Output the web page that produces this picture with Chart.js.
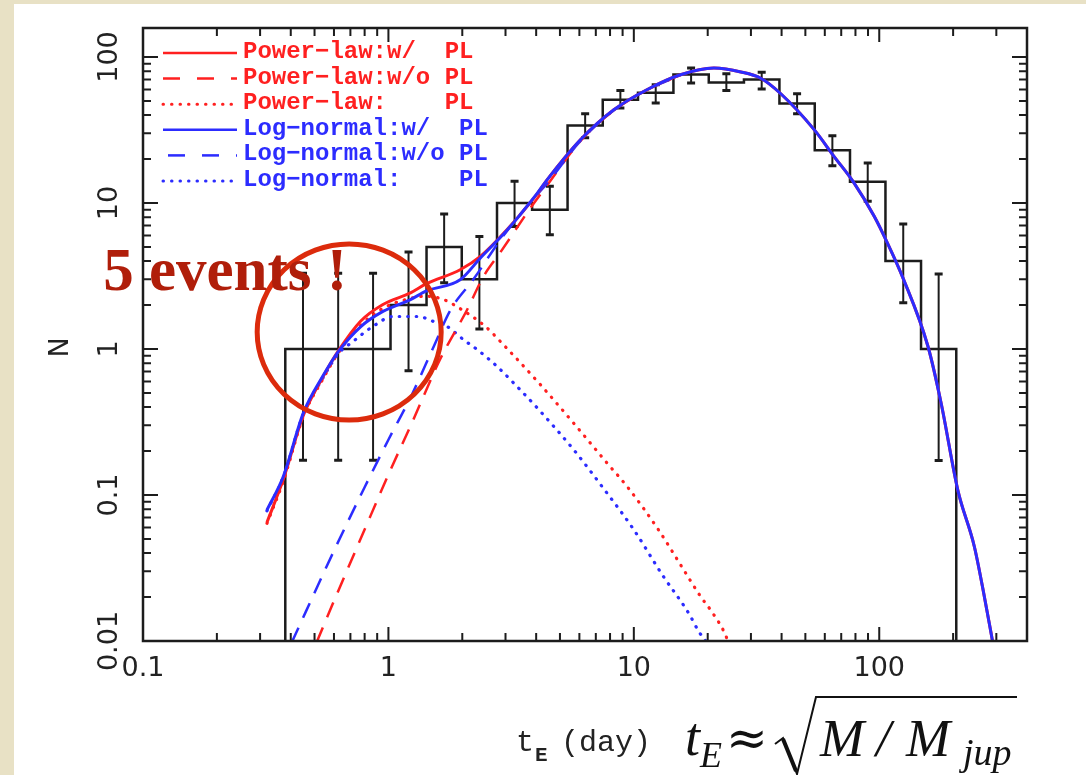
<!DOCTYPE html>
<html>
<head>
<meta charset="utf-8">
<title>tE distribution</title>
<script src="https://cdn.jsdelivr.net/npm/chart.js@4.4.1/dist/chart.umd.min.js"></script>
<style>
  html, body { margin: 0; padding: 0; background: #ffffff; overflow: hidden; }
  #wrap { position: relative; width: 1086px; height: 775px; }
</style>
</head>
<body>
<div id="wrap"><canvas id="myChart" width="1086" height="775"></canvas></div>
<script>
// histogram of observed events (bin edges in days)
let binEdges = [0.38, 0.53, 0.735, 1.02, 1.43, 1.99, 2.77, 3.85, 5.37, 7.47, 10.4, 14.5, 20.2, 28.1, 39.2, 54.6, 76.0, 106, 148, 206];
let binCounts = [1, 1, 1, 2, 5, 3, 10, 9, 34, 51, 57, 76, 67, 70, 48, 23, 14, 4, 1];
let errLow = [0.173, 0.173, 0.173, 0.71, 2.84, 1.37, 6.9, 6.07, 28, 44.7, 48.4, 66.4, 59, 60.4, 40.9, 18, 10.3, 2.07, 0.172];
let errHigh = [3.3, 3.3, 3.3, 4.62, 8.4, 5.9, 14.1, 13.0, 40.9, 59, 64.6, 84.1, 76.9, 78.5, 56.1, 28.9, 18.8, 7.18, 3.26];

// power-law model
let plTotalX = [0.32, 0.373, 0.45, 0.54, 0.625, 0.77, 0.95, 1.23, 1.43, 1.96, 2.37, 3.04, 4.03, 4.43, 6.06, 8.29, 11.3, 15.5, 21.2, 27.3, 32.9, 39.7, 54.3, 65.5, 79, 95.5, 108, 125, 158, 179, 209, 244, 268, 290];
let plTotalY = [0.065, 0.128, 0.35, 0.64, 0.97, 1.55, 2.02, 2.42, 2.8, 3.49, 4.31, 6.56, 11.5, 14.4, 27.1, 43.5, 59.7, 75.6, 84, 79, 71.5, 56, 31.8, 20.8, 13.7, 8.09, 5.32, 3.06, 1.04, 0.42, 0.108, 0.0444, 0.0202, 0.0098];
let plNoPlanetX = [0.51, 0.6, 0.8, 1.0, 1.25, 1.63, 2.09, 2.44, 2.86, 3.8, 4.43, 6.06, 8.29, 11.3, 15.5];
let plNoPlanetY = [0.0098, 0.0188, 0.058, 0.138, 0.315, 0.86, 1.85, 3.14, 4.6, 9.3, 13.2, 26.6, 43.1, 59.4, 75.4];
let plPlanetX = [0.32, 0.373, 0.45, 0.54, 0.625, 0.77, 0.95, 1.2, 1.43, 1.68, 2.0, 2.48, 2.99, 4.16, 5.69, 7.79, 9.4, 12.46, 15.5, 18.7, 20.6, 23.3, 24.3];
let plPlanetY = [0.064, 0.124, 0.345, 0.62, 0.94, 1.45, 1.9, 2.2, 2.3, 2.18, 1.85, 1.43, 1.04, 0.57, 0.31, 0.165, 0.114, 0.0594, 0.0333, 0.0202, 0.0162, 0.0116, 0.0098];

// log-normal model
let lnTotalX = plTotalX;
let lnTotalY = [0.079, 0.134, 0.364, 0.65, 0.96, 1.42, 1.81, 2.18, 2.5, 2.98, 4.2, 6.5, 11.6, 14.4, 27.1, 43.5, 59.7, 75.6, 84, 79, 71.5, 56, 31.8, 20.8, 13.7, 8.09, 5.32, 3.06, 1.04, 0.42, 0.108, 0.0444, 0.0202, 0.0098];
let lnNoPlanetX = [0.404, 0.6, 0.8, 1.0, 1.25, 1.53, 1.79, 2.22, 2.86, 3.8, 4.43, 6.06, 8.29, 11.3, 15.5];
let lnNoPlanetY = [0.0098, 0.0415, 0.113, 0.239, 0.492, 1.04, 1.85, 3.0, 5.6, 10.2, 13.6, 26.6, 43.1, 59.4, 75.4];
let lnPlanetX = [0.32, 0.373, 0.45, 0.54, 0.625, 0.72, 0.85, 1.05, 1.31, 1.58, 1.73, 2.02, 2.30, 2.77, 3.29, 4.16, 5.69, 7.55, 10.0, 13.06, 16.77, 18.4, 19.8];
let lnPlanetY = [0.078, 0.133, 0.36, 0.63, 0.93, 1.13, 1.4, 1.67, 1.67, 1.51, 1.43, 1.16, 0.99, 0.76, 0.569, 0.374, 0.204, 0.11, 0.0578, 0.0284, 0.0154, 0.0116, 0.0098];

let xTickValues = [0.1, 1, 10, 100];
let xTickLabels = ["0.1", "1", "10", "100"];
let yTickValues = [0.01, 0.1, 1, 10, 100];
let yTickLabels = ["0.01", "0.1", "1", "10", "100"];

let legendLabels = [
  "Power\u2212law:w/  PL",
  "Power\u2212law:w/o PL",
  "Power\u2212law:    PL",
  "Log\u2212normal:w/  PL",
  "Log\u2212normal:w/o PL",
  "Log\u2212normal:    PL",
];

const red = "rgb(255,32,32)";
const blue = "rgb(44,44,255)";
const ink = "#1c1c1c";
const dashLong = [16, 11];
const dashDot = [0.5, 8];
const legendStyles = [
  { color: red, dash: [] },
  { color: red, dash: [17, 17] },
  { color: red, dash: dashDot },
  { color: blue, dash: [] },
  { color: blue, dash: [17, 17], offset: 29 },
  { color: blue, dash: dashDot },
];

const xMin = 0.1, xMax = 400, yMin = 0.01, yMax = 158;

let toPoints = (xs, ys) => xs.map((x, i) => ({ x: x, y: ys[i] }));

let histPoints = [{ x: binEdges[0], y: yMin }];
binCounts.forEach((n, i) => {
  histPoints.push({ x: binEdges[i], y: n });
  histPoints.push({ x: binEdges[i + 1], y: n });
});
histPoints.push({ x: binEdges[binEdges.length - 1], y: yMin });

let curve = (label, xs, ys, color, dash, order, width) => ({
  label: label,
  data: toPoints(xs, ys),
  borderColor: color,
  borderWidth: width,
  borderDash: dash,
  borderCapStyle: dash === dashDot ? "round" : "butt",
  cubicInterpolationMode: "monotone",
  pointRadius: 0,
  fill: false,
  order: order,
});

const paperPlugin = {
  id: "paper",
  beforeDraw: (chart) => {
    let ctx = chart.ctx;
    ctx.save();
    ctx.fillStyle = "#ffffff";
    ctx.fillRect(0, 0, chart.width, chart.height);
    ctx.fillStyle = "#e8e1c5";
    ctx.fillRect(0, 0, 14, chart.height);
    ctx.fillRect(0, 0, chart.width, 4);
    ctx.restore();
  },
};

const errorBarPlugin = {
  id: "errorBars",
  beforeDatasetsDraw: (chart) => {
    let ctx = chart.ctx;
    let xs = chart.scales.x, ys = chart.scales.y;
    ctx.save();
    ctx.strokeStyle = ink;
    binCounts.forEach((n, i) => {
      let cx = xs.getPixelForValue(Math.sqrt(binEdges[i] * binEdges[i + 1]));
      let lo = ys.getPixelForValue(errLow[i]);
      let hi = ys.getPixelForValue(errHigh[i]);
      ctx.lineWidth = 2;
      ctx.beginPath();
      ctx.moveTo(cx, lo);
      ctx.lineTo(cx, hi);
      ctx.stroke();
      ctx.lineWidth = 3;
      ctx.beginPath();
      ctx.moveTo(cx - 4, lo);
      ctx.lineTo(cx + 4, lo);
      ctx.moveTo(cx - 4, hi);
      ctx.lineTo(cx + 4, hi);
      ctx.stroke();
    });
    ctx.restore();
  },
};

const framePlugin = {
  id: "frame",
  afterDraw: (chart) => {
    let ctx = chart.ctx;
    let area = chart.chartArea;
    let xs = chart.scales.x, ys = chart.scales.y;
    ctx.save();
    ctx.strokeStyle = ink;
    ctx.lineWidth = 2.5;
    ctx.strokeRect(area.left, area.top, area.right - area.left, area.bottom - area.top);

    // inward ticks on all four sides
    ctx.lineWidth = 2;
    ctx.beginPath();
    for (let d = xMin; d < xMax; d *= 10) {
      for (let m = 1; m <= 9; m++) {
        let v = d * m;
        if (v <= xMin * 1.001 || v >= xMax * 0.999) continue;
        let px = xs.getPixelForValue(v);
        let len = m === 1 ? 14 : 8;
        ctx.moveTo(px, area.bottom);
        ctx.lineTo(px, area.bottom - len);
        ctx.moveTo(px, area.top);
        ctx.lineTo(px, area.top + len);
      }
    }
    for (let d = yMin; d < yMax; d *= 10) {
      for (let m = 1; m <= 9; m++) {
        let v = d * m;
        if (v <= yMin * 1.001 || v >= yMax) continue;
        let py = ys.getPixelForValue(v);
        let len = m === 1 ? 15 : 8;
        ctx.moveTo(area.left, py);
        ctx.lineTo(area.left + len, py);
        ctx.moveTo(area.right, py);
        ctx.lineTo(area.right - len, py);
      }
    }
    ctx.stroke();

    // tick labels
    ctx.fillStyle = "#222";
    ctx.font = '27px "DejaVu Sans"';
    ctx.textAlign = "center";
    ctx.textBaseline = "middle";
    xTickValues.forEach((v, i) => {
      ctx.fillText(xTickLabels[i], xs.getPixelForValue(v), area.bottom + 28);
    });
    yTickValues.forEach((v, i) => {
      ctx.save();
      ctx.translate(area.left - 33, ys.getPixelForValue(v));
      ctx.rotate(-Math.PI / 2);
      ctx.fillText(yTickLabels[i], 0, 0);
      ctx.restore();
    });
    ctx.save();
    ctx.translate(area.left - 82, (area.top + area.bottom) / 2 + 13);
    ctx.rotate(-Math.PI / 2);
    ctx.fillText("N", 0, 0);
    ctx.restore();

    // x axis title
    ctx.textAlign = "left";
    ctx.textBaseline = "alphabetic";
    ctx.font = '30px "Liberation Mono"';
    ctx.fillText("t", 516, 751);
    ctx.font = 'bold 21px "Liberation Mono"';
    ctx.fillText("E", 535, 761);
    ctx.font = '30px "Liberation Mono"';
    ctx.fillText("(day)", 561, 751);

    // t_E ~ sqrt(M/M_jup)
    ctx.fillStyle = "#111";
    ctx.font = 'italic 54px "Liberation Serif"';
    ctx.fillText("t", 685, 755);
    ctx.font = 'italic 36px "Liberation Serif"';
    ctx.fillText("E", 700, 767);
    ctx.font = '50px "DejaVu Serif"';
    ctx.fillText("\u2248", 726, 755);
    ctx.strokeStyle = "#111";
    ctx.lineWidth = 2;
    ctx.beginPath();
    ctx.moveTo(775, 744);
    ctx.lineTo(783, 738);
    ctx.lineTo(797, 774);
    ctx.lineTo(816, 697);
    ctx.lineTo(1017, 697);
    ctx.stroke();
    ctx.lineWidth = 4;
    ctx.beginPath();
    ctx.moveTo(783, 739);
    ctx.lineTo(796, 771);
    ctx.stroke();
    ctx.font = 'italic 53px "Liberation Serif"';
    ctx.fillText("M", 820, 756);
    ctx.fillText("/", 876, 756);
    ctx.fillText("M", 906, 756);
    ctx.font = 'italic 38px "Liberation Serif"';
    ctx.fillText("jup", 963, 765);

    // legend
    ctx.font = 'bold 24px "Liberation Mono"';
    ctx.textBaseline = "middle";
    legendLabels.forEach((label, i) => {
      let st = legendStyles[i];
      let rowY = area.top + 25 + i * 25.6;
      ctx.strokeStyle = st.color;
      ctx.lineWidth = st.dash === dashDot ? 3 : 2.5;
      ctx.lineCap = st.dash === dashDot ? "round" : "butt";
      ctx.setLineDash(st.dash);
      ctx.lineDashOffset = st.offset || 0;
      ctx.beginPath();
      ctx.moveTo(area.left + 20, rowY);
      ctx.lineTo(area.left + 94, rowY);
      ctx.stroke();
      ctx.setLineDash([]);
      ctx.fillStyle = st.color;
      ctx.fillText(label, area.left + 100, rowY - 1);
    });

    // annotation: circle round the short events
    let cx = xs.getPixelForValue(0.692);
    let cy = ys.getPixelForValue(1.307);
    ctx.lineCap = "butt";
    ctx.strokeStyle = "#dc2b0c";
    ctx.lineWidth = 5;
    ctx.beginPath();
    ctx.ellipse(cx, cy, 92, 88, 0, 0, Math.PI * 2);
    ctx.stroke();
    ctx.fillStyle = "#b01e0a";
    ctx.font = 'bold 61px "Liberation Serif"';
    ctx.textBaseline = "alphabetic";
    ctx.fillText("5 events !", cx - 246, cy - 42);
    ctx.restore();
  },
};

const ctxChart = document.getElementById("myChart").getContext("2d");
const tEChart = new Chart(ctxChart, {
  type: "line",
  data: {
    datasets: [
      {
        label: "observed",
        data: histPoints,
        borderColor: ink,
        borderWidth: 2.5,
        tension: 0,
        pointRadius: 0,
        fill: false,
        order: 10,
      },
      curve("Power-law:w/o PL", plNoPlanetX, plNoPlanetY, red, dashLong, 4, 2.5),
      curve("Log-normal:w/o PL", lnNoPlanetX, lnNoPlanetY, blue, dashLong, 3, 2.5),
      curve("Power-law: PL", plPlanetX, plPlanetY, red, dashDot, 6, 3.2),
      curve("Log-normal: PL", lnPlanetX, lnPlanetY, blue, dashDot, 5, 3.2),
      curve("Power-law:w/ PL", plTotalX, plTotalY, red, [], 2, 3),
      curve("Log-normal:w/ PL", lnTotalX, lnTotalY, blue, [], 1, 3),
    ],
  },
  options: {
    responsive: false,
    animation: false,
    devicePixelRatio: 1,
    events: [],
    layout: {
      padding: { left: 143, top: 28, right: 59, bottom: 134 },
    },
    scales: {
      x: { type: "logarithmic", min: xMin, max: xMax, display: false },
      y: { type: "logarithmic", min: yMin, max: yMax, display: false },
    },
    plugins: {
      legend: { display: false },
      tooltip: { enabled: false },
    },
  },
  plugins: [paperPlugin, errorBarPlugin, framePlugin],
});
</script>
</body>
</html>
